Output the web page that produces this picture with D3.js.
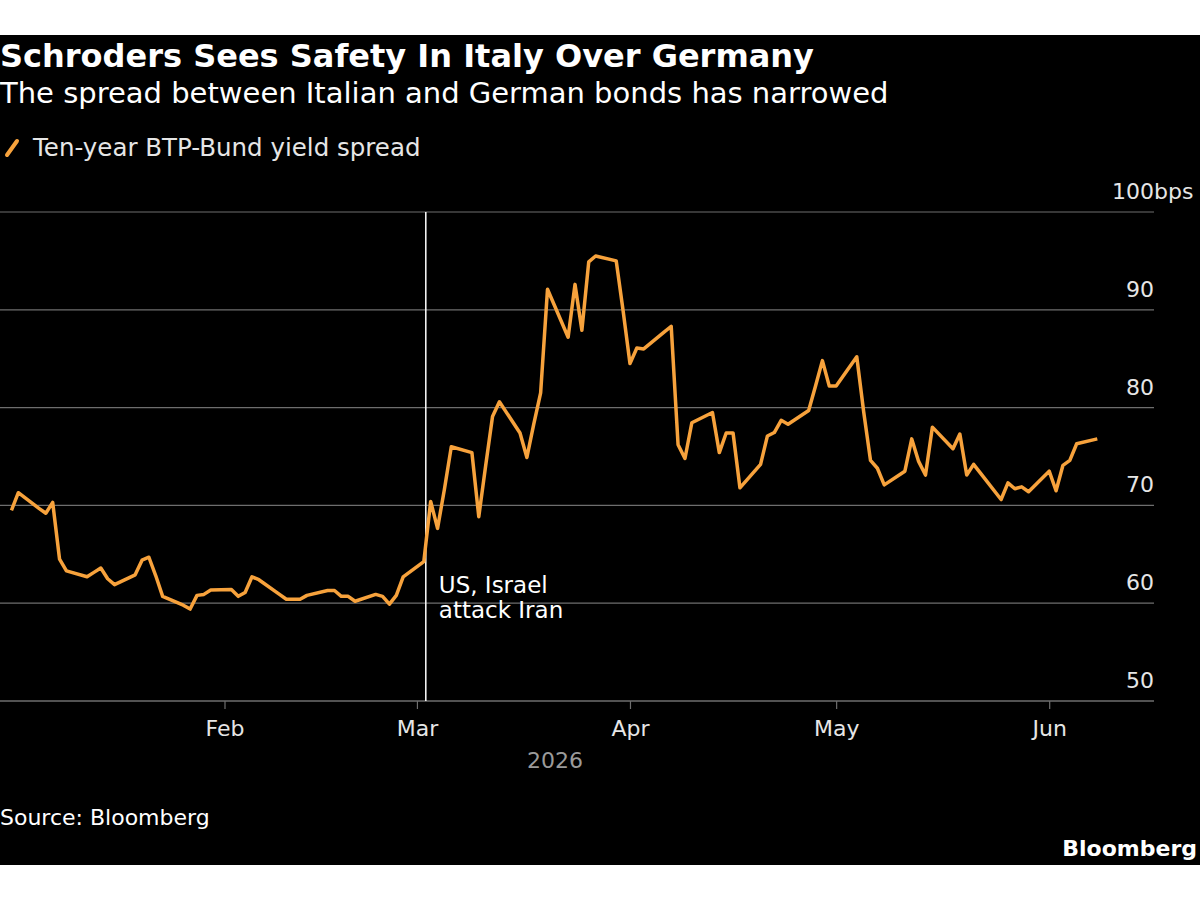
<!DOCTYPE html>
<html>
<head>
<meta charset="utf-8">
<script src="https://cdn.jsdelivr.net/npm/d3@7"></script>
<style>
  body { margin: 0; background: #fff; }
  svg { display: block; }
  text { font-family: "DejaVu Sans", sans-serif; }
</style>
</head>
<body>
<div id="chart"></div>
<script>
// Ten-year BTP-Bund spread, bps
const dates = [
  "2026-01-01","2026-01-02","2026-01-05","2026-01-06","2026-01-07","2026-01-08","2026-01-09",
  "2026-01-12","2026-01-13","2026-01-14","2026-01-15","2026-01-16",
  "2026-01-19","2026-01-20","2026-01-21","2026-01-22","2026-01-23",
  "2026-01-26","2026-01-27","2026-01-28","2026-01-29","2026-01-30",
  "2026-02-02","2026-02-03","2026-02-04","2026-02-05","2026-02-06",
  "2026-02-09","2026-02-10","2026-02-11","2026-02-12","2026-02-13",
  "2026-02-16","2026-02-17","2026-02-18","2026-02-19","2026-02-20",
  "2026-02-23","2026-02-24","2026-02-25","2026-02-26","2026-02-27",
  "2026-03-02","2026-03-03","2026-03-04","2026-03-05","2026-03-06",
  "2026-03-09","2026-03-10","2026-03-11","2026-03-12","2026-03-13",
  "2026-03-16","2026-03-17","2026-03-18","2026-03-19","2026-03-20",
  "2026-03-23","2026-03-24","2026-03-25","2026-03-26","2026-03-27",
  "2026-03-30","2026-03-31","2026-04-01","2026-04-02","2026-04-03",
  "2026-04-06","2026-04-07","2026-04-08","2026-04-09","2026-04-10",
  "2026-04-13","2026-04-14","2026-04-15","2026-04-16","2026-04-17",
  "2026-04-20","2026-04-21","2026-04-22","2026-04-23","2026-04-24",
  "2026-04-27","2026-04-28","2026-04-29","2026-04-30","2026-05-01",
  "2026-05-04","2026-05-05","2026-05-06","2026-05-07","2026-05-08",
  "2026-05-11","2026-05-12","2026-05-13","2026-05-14","2026-05-15",
  "2026-05-18","2026-05-19","2026-05-20","2026-05-21","2026-05-22",
  "2026-05-25","2026-05-26","2026-05-27","2026-05-28","2026-05-29",
  "2026-06-01","2026-06-02","2026-06-03","2026-06-04","2026-06-05",
  "2026-06-08"
];
const spread = [
  69.5, 71.3, 69.7, 69.2, 70.3, 64.5, 63.3,
  62.7, 63.15, 63.6, 62.5, 61.9,
  62.9, 64.4, 64.7, 62.8, 60.7,
  59.8, 59.4, 60.8, 60.9, 61.35,
  61.4, 60.7, 61.1, 62.7, 62.4,
  60.9, 60.4, 60.4, 60.4, 60.8,
  61.3, 61.3, 60.7, 60.7, 60.2,
  60.9, 60.7, 59.9, 60.8, 62.7,
  64.25, 70.4, 67.65, 71.65, 76.0,
  75.4, 68.85, 74.05, 79.1, 80.6,
  77.4, 74.9, 78.3, 81.5, 92.1,
  87.2, 92.6, 87.9, 94.9, 95.5,
  95.0, 89.9, 84.5, 86.1, 86.0,
  87.75, 88.3, 76.2, 74.8, 78.45,
  79.5, 75.4, 77.4, 77.4, 71.8,
  74.2, 77.1, 77.45, 78.7, 78.3,
  79.7, 82.2, 84.8, 82.2, 82.2,
  85.2, 79.6, 74.6, 73.8, 72.1,
  73.5, 76.8, 74.5, 73.1, 78.0,
  75.8, 77.3, 73.1, 74.2, 73.3,
  70.6, 72.3, 71.7, 71.9, 71.4,
  73.5, 71.5, 74.1, 74.6, 76.3,
  76.8
];
const yTicks = [50, 60, 70, 80, 90, 100];
const monthTicks = ["2026-02-01", "2026-03-01", "2026-04-01", "2026-05-01", "2026-06-01"];
const eventDate = "2026-03-02";
const eventLabel = ["US, Israel", "attack Iran"];

const W = 1200, H = 900;
const orange = "#f7a23c";
const grid = "#6e6e6e";

const parse = d3.timeParse("%Y-%m-%d");
const data = dates.map((d, i) => ({date: parse(d), value: spread[i]}));

const svg = d3.select("#chart").append("svg")
  .attr("width", W).attr("height", H);

// black panel between the white strips
svg.append("rect").attr("x", 0).attr("y", 35).attr("width", W).attr("height", 830).attr("fill", "#000");

const x = d3.scaleTime()
  .domain([new Date(2025, 11, 30, 8), new Date(2026, 5, 16, 6)])
  .range([0, 1154]);
const y = d3.scaleLinear().domain([50, 100]).range([701, 212]);

// header
svg.append("text").attr("x", 0).attr("y", 67)
  .attr("fill", "#fff").attr("font-size", 32).attr("font-weight", "bold")
  .text("Schroders Sees Safety In Italy Over Germany");
svg.append("text").attr("x", 0).attr("y", 103)
  .attr("fill", "#fff").attr("font-size", 29)
  .text("The spread between Italian and German bonds has narrowed");

// legend
svg.append("line").attr("x1", 7).attr("y1", 155).attr("x2", 17).attr("y2", 141)
  .attr("stroke", orange).attr("stroke-width", 4).attr("stroke-linecap", "round");
svg.append("text").attr("x", 33).attr("y", 156)
  .attr("fill", "#e6e6e6").attr("font-size", 24.5)
  .text("Ten-year BTP-Bund yield spread");

// gridlines + y labels
const gy = svg.append("g");
gy.selectAll("line").data(yTicks.filter(d => d !== 50)).join("line")
  .attr("x1", 0).attr("x2", 1154)
  .attr("y1", d => y(d)).attr("y2", d => y(d))
  .attr("stroke", grid).attr("stroke-width", 1.2);
gy.selectAll("text").data(yTicks).join("text")
  .attr("x", 1154).attr("y", d => y(d) - 13)
  .attr("text-anchor", "end")
  .attr("fill", "#e6e6e6").attr("font-size", 22)
  .text(d => d);
svg.append("text").attr("x", 1154).attr("y", y(100) - 13)
  .attr("fill", "#e6e6e6").attr("font-size", 22).text("bps");

// x axis
const xAxis = svg.append("g").attr("transform", `translate(0,${y(50)})`)
  .call(d3.axisBottom(x)
    .tickValues(monthTicks.map(parse))
    .tickFormat(d3.timeFormat("%b"))
    .tickSize(8).tickPadding(11));
xAxis.select(".domain").attr("stroke", grid).attr("stroke-width", 1.5).attr("d", "M0,0H1154");
xAxis.selectAll(".tick line").attr("stroke", grid).attr("stroke-width", 1.2);
xAxis.selectAll(".tick text").attr("fill", "#e6e6e6").attr("font-size", 22)
  .attr("font-family", "DejaVu Sans, sans-serif");

svg.append("text").attr("x", 555).attr("y", 768).attr("text-anchor", "middle")
  .attr("fill", "#9a9a9a").attr("font-size", 22).text("2026");

// event marker
const ex = x(parse(eventDate)) + 2;
svg.append("line").attr("x1", ex).attr("x2", ex).attr("y1", y(100)).attr("y2", y(50))
  .attr("stroke", "#fff").attr("stroke-width", 1.5);
svg.append("g").selectAll("text").data(eventLabel).join("text")
  .attr("x", ex + 13).attr("y", (d, i) => 593 + i * 25)
  .attr("fill", "#fff").attr("font-size", 23)
  .text(d => d);

// the series
const line = d3.line().x(d => x(d.date)).y(d => y(d.value));
svg.append("path").datum(data)
  .attr("d", line)
  .attr("fill", "none").attr("stroke", orange)
  .attr("stroke-width", 3.5).attr("stroke-linejoin", "round");

// footer
svg.append("text").attr("x", 0).attr("y", 825)
  .attr("fill", "#fff").attr("font-size", 22).text("Source: Bloomberg");
svg.append("text").attr("x", 1197).attr("y", 856).attr("text-anchor", "end")
  .attr("fill", "#fff").attr("font-size", 22).attr("font-weight", "bold").text("Bloomberg");
</script>
</body>
</html>
